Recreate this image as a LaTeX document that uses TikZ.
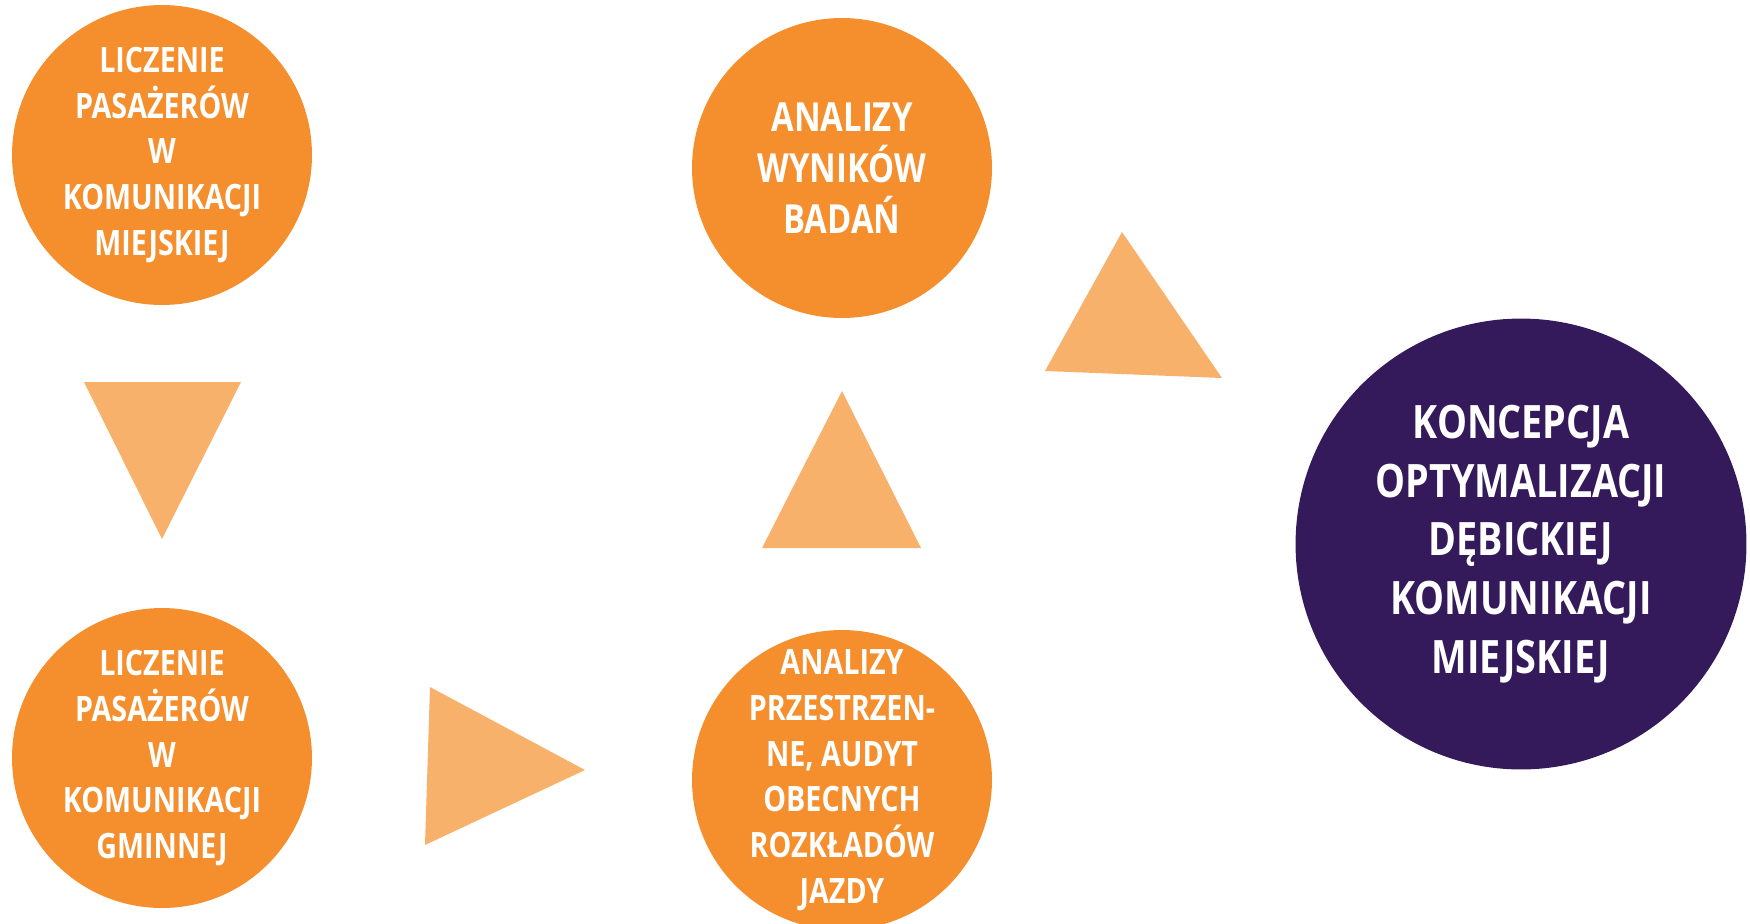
\documentclass[tikz,border=0pt]{standalone}
\usepackage{fontspec}
\setmainfont{Open Sans}[FakeStretch=0.82]
\definecolor{stepOrange}{HTML}{F58E2C}
\definecolor{arrowOrange}{HTML}{F8B16A}
\definecolor{goalPurple}{HTML}{341A5B}

\begin{document}
\begin{tikzpicture}[x=0.02cm, y=-0.02cm,
            stage/.style={circle, minimum size=6cm, inner sep=0pt, fill=stepOrange,
                    text=white, align=center, font=\bfseries\fontsize{19.9}{26}\selectfont},
            goal/.style={stage, minimum size=9.02cm, fill=goalPurple,
                    font=\bfseries\fontsize{26.2}{33.5}\selectfont},
            pointer/.style={fill=arrowOrange}
        ]
        \useasboundingbox (0,0) rectangle (1750,923);

        % Stages of the study
        \node[stage] (countCity) at (162,155) {LICZENIE\\PASAŻERÓW\\W\\KOMUNIKACJI\\MIEJSKIEJ};
        \node[stage] (countRural) at (162,758) {LICZENIE\\PASAŻERÓW\\W\\KOMUNIKACJI\\GMINNEJ};
        % text is taller than the circle, so let it overflow
        \node[stage, inner sep=-1cm] (spatial) at (842,780) {ANALIZY\\PRZESTRZEN-\\NE, AUDYT\\OBECNYCH\\ROZKŁADÓW\\JAZDY};
        \node[stage, font=\bfseries\fontsize{22.8}{29}\selectfont] (results) at (842,168) {ANALIZY\\WYNIKÓW\\BADAŃ};

        % Final result
        \node[goal] (concept) at (1521,544) {KONCEPCJA\\OPTYMALIZACJI\\DĘBICKIEJ\\KOMUNIKACJI\\MIEJSKIEJ};

        % Triangles pointing from one stage to the next
        \fill[pointer] (84,382) -- (241,382) -- (162,539) -- cycle;
        \fill[pointer] (430,687) -- (585,770) -- (425,845) -- cycle;
        \fill[pointer] (842,391) -- (921,548) -- (762,548) -- cycle;
        \fill[pointer] (1122,232) -- (1222,378) -- (1045,371) -- cycle;
    \end{tikzpicture}
\end{document}
